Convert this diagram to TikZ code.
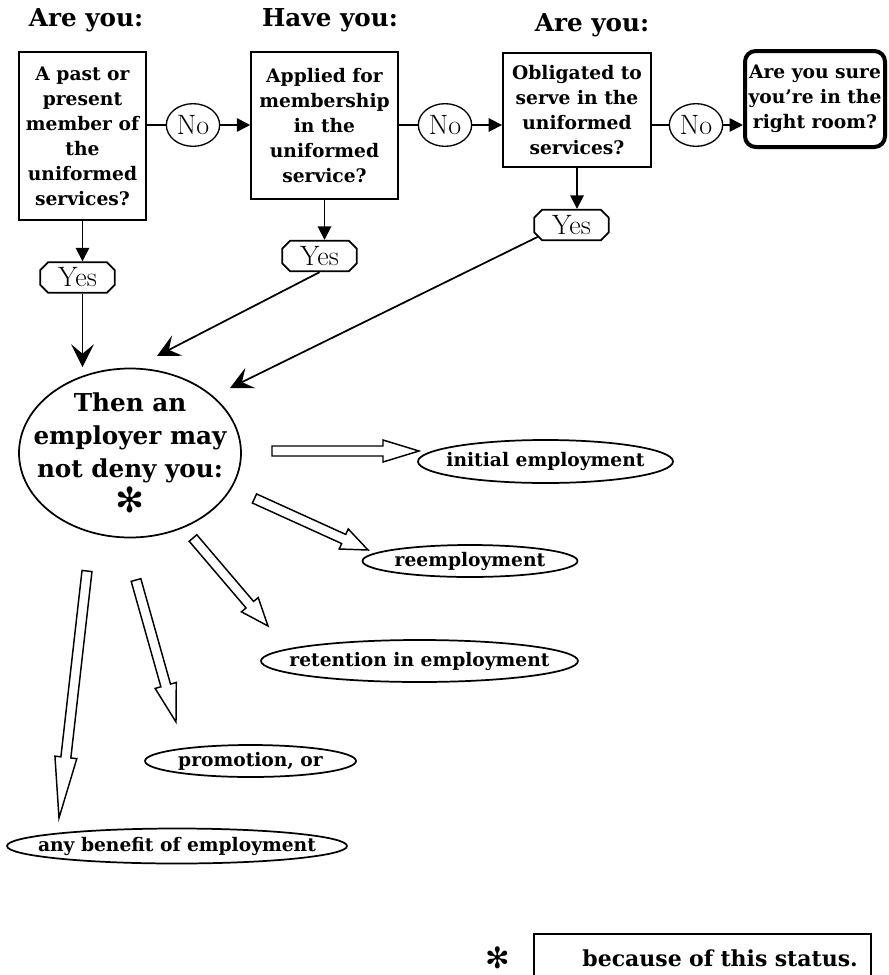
\documentclass[tikz,border=0pt]{standalone}
\usepackage{fontspec}
\newfontfamily\slab{DejaVu Serif}
\newfontfamily\dings{DejaVu Sans}
\usetikzlibrary{arrows.meta,calc,shapes.geometric,shapes.misc}

\tikzset{%
  link/.style={line width=1.3pt},
  tip/.style={link,-{Triangle[length=10pt,width=10pt]}},
  barb/.style={link,-{Stealth[length=17pt,width=17pt,inset=7pt]}},
  question/.style={draw,line width=1.4pt,align=center,inner sep=0pt,
    font=\slab\bfseries\fontsize{14}{18.75}\selectfont},
  heading/.style={font=\slab\bfseries\fontsize{18.5}{22}\selectfont},
  nobubble/.style={draw,ellipse,line width=1pt,inner sep=0pt,
    minimum width=40pt,minimum height=32pt,font=\fontsize{21}{24}\selectfont},
  yestag/.style={draw,chamfered rectangle,chamfered rectangle xsep=3pt,
    chamfered rectangle ysep=3pt,line width=1.3pt,inner sep=0pt,
    minimum width=56pt,minimum height=23pt,font=\fontsize{21}{24}\selectfont},
  outcome/.style={align=center,font=\slab\bfseries\fontsize{14}{16}\selectfont},
  ring/.style={line width=1.3pt},
  hollow arrow/.style={draw,line width=1.1pt,fill=white,line join=miter},
}
% hollow arrow from tail to tip, with head length
\newcommand\hollow[3]{%
  \coordinate (hb) at ($(#2)!#3!(#1)$);
  \draw[hollow arrow] ($(#1)!3.75pt!90:(#2)$) -- ($(hb)!3.75pt!90:(#2)$)
    -- ($(hb)!8.25pt!90:(#2)$) -- (#2) -- ($(hb)!8.25pt!-90:(#2)$)
    -- ($(hb)!3.75pt!-90:(#2)$) -- ($(#1)!3.75pt!-90:(#2)$) -- cycle;
}

\begin{document}
\begin{tikzpicture}[x=0.75pt,y=-0.75pt]
  \useasboundingbox (0,0) rectangle (889,975);

  % headings
  \node[heading] (head1) at (86,20) {Are you:};
  \node[heading] (head2) at (330,20) {Have you:};
  \node[heading] (head3) at (592,25) {Are you:};

  % question boxes
  \node[question,minimum width=95.25pt,minimum height=126pt] (past) at (82.5,136)
    {A past or\\present\\member of\\the\\uniformed\\services?};
  \node[question,minimum width=110pt,minimum height=110pt] (applied) at (324.5,125.5)
    {Applied for\\membership\\in the\\uniformed\\service?};
  \node[question,minimum width=111pt,minimum height=86pt] (obliged) at (577,110)
    {Obligated to\\serve in the\\uniformed\\services?};
  \node[question,line width=3pt,rounded corners=8pt,minimum width=105pt,
    minimum height=72pt] (sure) at (815,99)
    {Are you sure\\you’re in the\\right room?};

  % no bubbles
  \node[nobubble] (no1) at (193,125) {No};
  \node[nobubble] (no2) at (445,125) {No};
  \node[nobubble] (no3) at (696,125) {No};

  % yes tags
  \node[yestag] (yes1) at (77.5,277.5) {Yes};
  \node[yestag] (yes2) at (319.5,256) {Yes};
  \node[yestag] (yes3) at (571.5,225) {Yes};

  \draw[link] (past.east |- no1.west) -- (no1.west);
  \draw[tip] (no1.east) -- (applied.west |- no1.east);
  \draw[link] (applied.east |- no2.west) -- (no2.west);
  \draw[tip] (no2.east) -- (obliged.west |- no2.east);
  \draw[link] (obliged.east |- no3.west) -- (no3.west);
  \draw[tip] (no3.east) -- (sure.west |- no3.east);

  \draw[tip] (past.south) -- (past.south |- yes1.north);
  \draw[tip] (applied.south) -- (applied.south |- yes2.north);
  \draw[tip] (obliged.south) -- (obliged.south |- yes3.north);

  % the rule
  \node[align=center,font=\slab\bfseries\fontsize{18.5}{24.75}\selectfont]
    (deny) at (130,453)
    {Then an\\employer may\\not deny you:\\[1pt]{\dings\fontsize{26}{26}\selectfont ✻}};
  \draw[ring] (deny.center) ellipse [x radius=111, y radius=84.5];
  \coordinate (top) at (130,367);

  \coordinate (in2) at (157,356);
  \coordinate (in3) at (230,388);
  \draw[barb] (past.south |- yes1.south) -- (past.south |- top);
  \draw[barb] (yes2.south) -- (in2);
  \draw[barb] (yes3.south west) -- (in3);

  % outcomes
  \node[outcome] (initial) at (545.5,461.5) {initial employment};
  \node[outcome] (reemp) at (470,561) {reemployment};
  \node[outcome] (retain) at (419.5,661) {retention in employment};
  \node[outcome] (promo) at (250.5,761) {promotion, or};
  \node[outcome] (benefit) at (177,846) {any benefit of employment};
  \foreach \n/\rx/\ry in {initial/127.5/21.5,reemp/107.5/16,retain/158.5/21,
    promo/105.5/16,benefit/170/17.5}
    \draw[ring] (\n.center) ellipse [x radius=\rx, y radius=\ry];

  \coordinate (t1) at (272,451);   \coordinate (h1) at (419,451);
  \coordinate (t2) at (254.5,498.5); \coordinate (h2) at (368,550);
  \coordinate (t3) at (193,538);   \coordinate (h3) at (268,626);
  \coordinate (t4) at (136,580);   \coordinate (h4) at (176,722);
  \coordinate (t5) at (87,571);    \coordinate (h5) at (59,818);
  \foreach \from/\to/\len in {t1/h1/27pt,t2/h2/20pt,t3/h3/21pt,t4/h4/28.5pt,t5/h5/45.75pt}
    \hollow{\from}{\to}{\len};

  % footnote
  \node[font=\dings\fontsize{22}{22}\selectfont] (star) at (498,958) {✻};
  \node[draw,line width=1.4pt,minimum width=252.75pt,minimum height=36pt,
    text width=233pt,align=right,inner xsep=9.75pt,
    font=\slab\bfseries\fontsize{16.5}{19}\selectfont] (status) at (702.5,958)
    {because of this status.};
\end{tikzpicture}
\end{document}
